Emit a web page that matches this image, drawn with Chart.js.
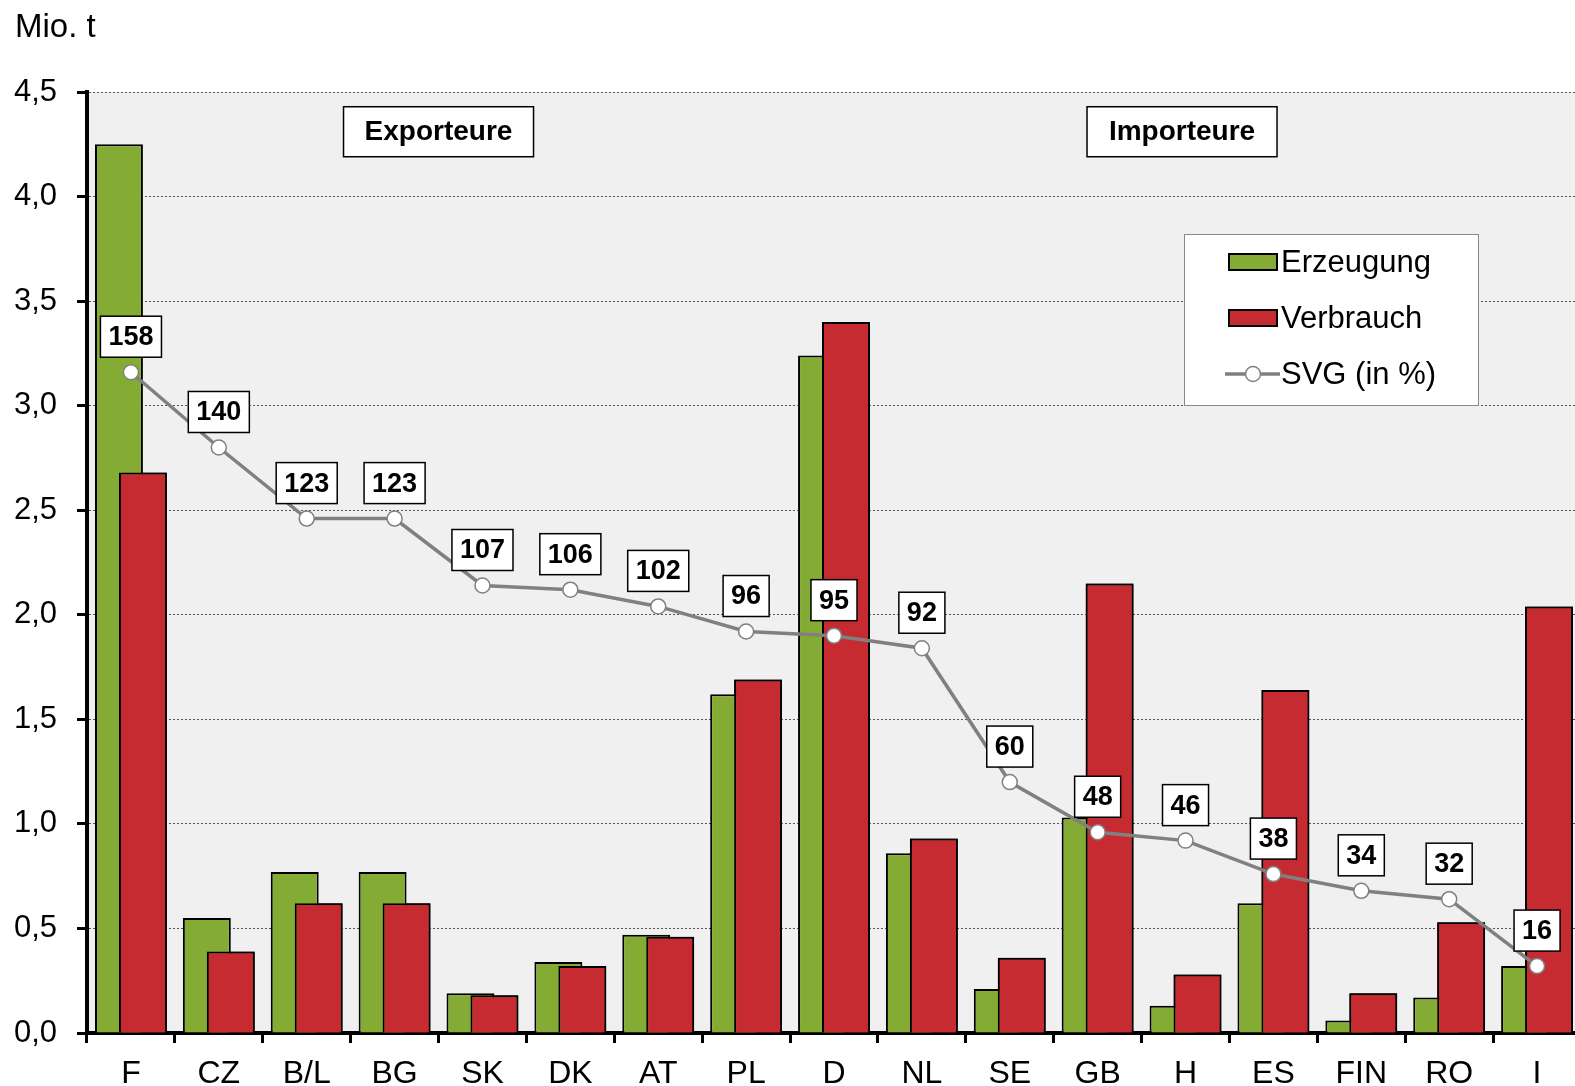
<!DOCTYPE html>
<html><head><meta charset="utf-8">
<script src="https://cdn.jsdelivr.net/npm/chart.js@4.4.1/dist/chart.umd.min.js"></script>
<style>
html,body{margin:0;padding:0;background:#fff;overflow:hidden;}
#wrap{position:relative;width:1590px;height:1086px;}
</style></head><body>
<div id="wrap"><canvas id="c"></canvas></div>
<script>
const categories = ['F','CZ','B/L','BG','SK','DK','AT','PL','D','NL','SE','GB','H','ES','FIN','RO','I'];
const erzeugung = [4.25,0.55,0.77,0.77,0.19,0.34,0.47,1.62,3.24,0.86,0.21,1.03,0.13,0.62,0.06,0.17,0.32];
const verbrauch = [2.68,0.39,0.62,0.62,0.18,0.32,0.46,1.69,3.40,0.93,0.36,2.15,0.28,1.64,0.19,0.53,2.04];
const svg = [158,140,123,123,107,106,102,96,95,92,60,48,46,38,34,32,16];
const seriesNames = ['SVG (in %)','Erzeugung','Verbrauch'];
const groupLabels = ['Exporteure','Importeure'];
const unitLabel = 'Mio. t';

const FONT = "'Liberation Sans', Arial, sans-serif";
const GREEN = '#84ac35', RED = '#c52b30', GREY = '#808080';

function box(ctx, cx, cy, w, h, lw, stroke){
  ctx.fillStyle='#fff'; ctx.fillRect(cx-w/2, cy-h/2, w, h);
  ctx.lineWidth=lw; ctx.strokeStyle=stroke; ctx.strokeRect(cx-w/2, cy-h/2, w, h);
}

const decor = {
  id:'decor',
  beforeDraw(chart){
    const {ctx, chartArea:a} = chart;
    ctx.save(); ctx.fillStyle='#f0f0f0';
    ctx.fillRect(a.left,a.top,a.right-a.left,a.bottom-a.top); ctx.restore();
  },
  afterDatasetDraw(chart,args){
    if(args.index===1){ chart.getDatasetMeta(2).controller.draw(); }
  },
  afterDatasetsDraw(chart){
    const ctx = chart.ctx, xs = chart.scales.x, ys = chart.scales.y;
    ctx.save();
    ctx.font = "bold 28px "+FONT; ctx.textAlign='center'; ctx.textBaseline='middle';
    [[3.5,groupLabels[0]],[11.96,groupLabels[1]]].forEach(([v,t])=>{
      const cx = xs.getPixelForValue(v), cy = ys.getPixelForValue(4.31);
      box(ctx,cx,cy,190,50,1.5,'#000');
      ctx.fillStyle='#000'; ctx.fillText(t,cx,cy+1);
    });
    const meta = chart.getDatasetMeta(0);
    ctx.font = "bold 27px "+FONT;
    meta.data.forEach((p,i)=>{
      const t = String(svg[i]);
      const w = ctx.measureText(t).width + 16, h = 41;
      const cy = p.y - 15 - h/2;
      box(ctx,p.x,cy,w,h,1.5,'#000');
      ctx.fillStyle='#000'; ctx.fillText(t,p.x,cy+1);
    });
    ctx.fillStyle='#fff'; ctx.fillRect(1184,234,294,171);
    ctx.lineWidth=1; ctx.strokeStyle='#888'; ctx.strokeRect(1184.5,234.5,294,171);
    ctx.font = "31px "+FONT; ctx.textAlign='left';
    const rows = [[GREEN,seriesNames[1]],[RED,seriesNames[2]]];
    rows.forEach(([c,t],k)=>{
      const cy = 262 + k*56;
      ctx.fillStyle=c; ctx.fillRect(1229,cy-8,48,16);
      ctx.lineWidth=2; ctx.strokeStyle='#000'; ctx.strokeRect(1229,cy-8,48,16);
      ctx.fillStyle='#000'; ctx.fillText(t,1281,cy+1);
    });
    const ly = 374;
    ctx.strokeStyle=GREY; ctx.lineWidth=3.5; ctx.beginPath(); ctx.moveTo(1225,ly); ctx.lineTo(1280,ly); ctx.stroke();
    ctx.beginPath(); ctx.arc(1253,ly,7.5,0,Math.PI*2); ctx.fillStyle='#fff'; ctx.fill();
    ctx.lineWidth=1.5; ctx.strokeStyle=GREY; ctx.stroke();
    ctx.fillStyle='#000'; ctx.fillText(seriesNames[0],1281,ly+1);
    ctx.restore();
  },
  afterDraw(chart){
    const ctx = chart.ctx; ctx.save();
    ctx.font = "33px "+FONT; ctx.fillStyle='#000'; ctx.textAlign='left'; ctx.textBaseline='alphabetic';
    ctx.fillText(unitLabel,15,37); ctx.restore();
  }
};

new Chart(document.getElementById('c'), {
  type:'bar',
  data:{
    labels: categories,
    datasets:[
      {type:'line', label:seriesNames[0], data:svg, yAxisID:'y2', order:0,
       borderColor:GREY, borderWidth:3.5, pointRadius:7.5, pointBackgroundColor:'#fff',
       pointBorderColor:GREY, pointBorderWidth:1.5, tension:0, fill:false},
      {label:seriesNames[1], data:erzeugung, backgroundColor:GREEN, borderColor:'#000', borderWidth:2, order:1},
      {label:seriesNames[2], data:verbrauch, backgroundColor:RED, borderColor:'#000', borderWidth:2, order:2}
    ]
  },
  options:{
    responsive:true, maintainAspectRatio:false, devicePixelRatio:1, animation:false,
    categoryPercentage: 48/88, barPercentage: 2.0,
    layout:{padding:{top:92,right:7,left:0,bottom:0}},
    plugins:{legend:{display:false}, tooltip:{enabled:false}},
    scales:{
      x:{
        afterFit(s){ s.height = 53; },
        grid:{offset:true, drawOnChartArea:false, tickLength:10, tickWidth:3, tickColor:'#000', color:'#000'},
        border:{color:'#000', width:4},
        ticks:{color:'#000', padding:12, font:{family:FONT, size:32}, maxRotation:0, autoSkip:false}
      },
      y:{
        min:0, max:4.5,
        afterFit(s){ s.width = 87; },
        grid:{color:'#555', lineWidth:1, tickLength:10, tickWidth:3, tickColor:'#000', tickBorderDash:[]},
        border:{color:'#000', width:4, dash:[2,2]},
        ticks:{stepSize:0.5, color:'#000', padding:20, font:{family:FONT, size:31},
          callback:(v)=>Number(v).toFixed(1).replace('.',',')}
      },
      y2:{display:false, min:0, max:225}
    }
  },
  plugins:[decor]
});
</script>
</body></html>
